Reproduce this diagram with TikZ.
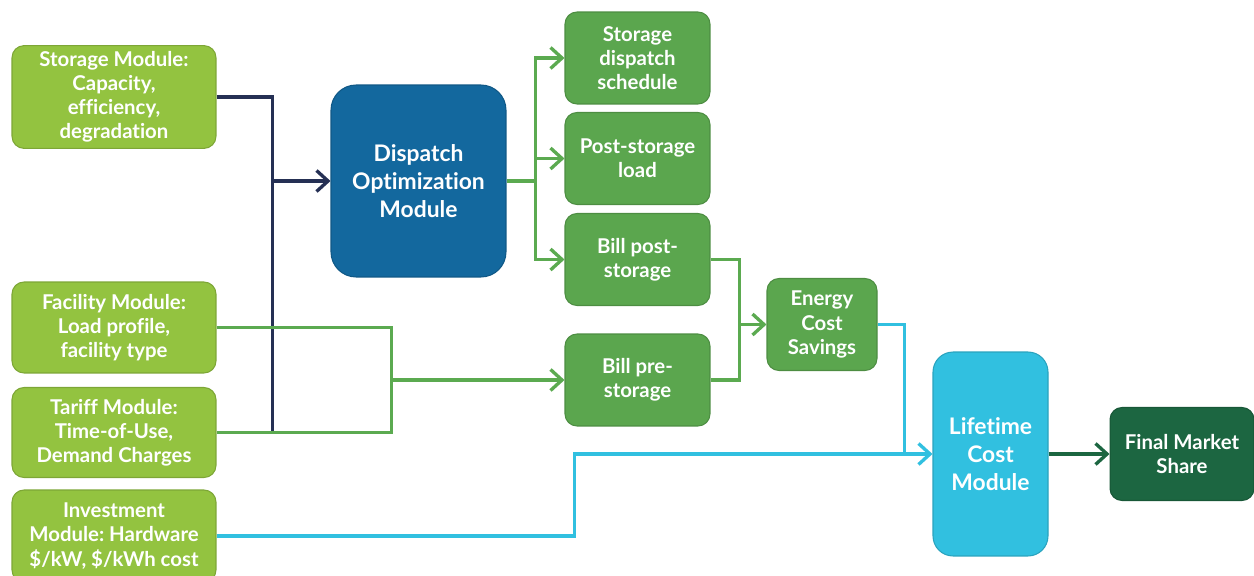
\documentclass[tikz,border=0pt]{standalone}
\usepackage{fontspec}
\setmainfont{Lato}[Ligatures=NoCommon]
\frenchspacing
\usetikzlibrary{arrows.meta}
\definecolor{inputgreen}{RGB}{147,195,64}
\definecolor{outgreen}{RGB}{91,166,78}
\definecolor{dispblue}{RGB}{19,104,158}
\definecolor{lifecyan}{RGB}{49,192,224}
\definecolor{finalgreen}{RGB}{28,102,65}
\definecolor{navyline}{RGB}{37,48,84}
\definecolor{greenline}{RGB}{91,170,80}
\tikzset{
	box/.style={rounded corners=0.24cm,align=center,text=white,line width=0.6pt,
		font=\bfseries\fontsize{11.6}{13.7}\selectfont},
	inbox/.style={box,fill=inputgreen,draw=inputgreen!85!black,minimum width=4.08cm},
	outbox/.style={box,fill=outgreen,draw=outgreen!85!black,minimum width=2.9cm,minimum height=1.84cm},
	conn/.style={line width=1.9pt},
	arr/.style={conn,-{Straight Barb[length=2.3mm,width=4.2mm]}}
}
\begin{document}
\begin{tikzpicture}[x=0.02cm,y=-0.02cm]
	\useasboundingbox (0,0) rectangle (1254,575);
	\node [inbox,minimum height=2.02cm] (stor) at (114,97) {Storage Module:\\Capacity,\\efficiency,\\degradation};
	\node [inbox,minimum height=1.82cm] (fac) at (114,327.5) {Facility Module:\\Load profile,\\facility type};
	\node [inbox,minimum height=1.8cm] (tar) at (114,432.5) {Tariff Module:\\Time-of-Use,\\Demand Charges};
	\node [inbox,minimum height=1.84cm] (inv) at (114,536) {Investment\\Module: Hardware\\\$/kW, \$/kWh cost};
	\node [box,fill=dispblue,draw=dispblue!85!black,rounded corners=0.5cm,minimum width=3.5cm,minimum height=3.84cm,
		font=\bfseries\fontsize{13}{15.9}\selectfont] (disp) at (418.5,181) {Dispatch\\Optimization\\Module};
	\node [outbox] (sched) at (637.5,58) {Storage\\dispatch\\schedule};
	\node [outbox] (load) at (637.5,158.5) {Post-storage\\load};
	\node [outbox] (post) at (637.5,259.5) {Bill post-\\storage};
	\node [outbox] (pre) at (637.5,380) {Bill pre-\\storage};
	\node [outbox,minimum width=2.2cm] (sav) at (822,324.5) {Energy\\Cost\\Savings};
	\node [box,fill=lifecyan,draw=lifecyan!85!black,rounded corners=0.4cm,minimum width=2.3cm,minimum height=4.08cm,
		font=\bfseries\fontsize{13}{15.9}\selectfont] (life) at (990.5,454) {Lifetime\\Cost\\Module};
	\node [box,fill=finalgreen,draw=finalgreen!85!black,minimum width=2.88cm,minimum height=1.86cm] (fin) at (1182,454) {Final Market\\Share};
	\coordinate (ntrunk) at ([xshift=-1.16cm]disp.west);
	\coordinate (fsplit) at ([xshift=-3.46cm]pre.west);
	\coordinate (dsplit) at ([xshift=0.58cm]disp.east);
	\coordinate (ssplit) at ([xshift=-0.54cm]sav.west);
	\coordinate (isplit) at ([xshift=-7.16cm]life.west);
	\coordinate (ljoin) at ([xshift=-0.56cm]life.west);
	\draw [conn,navyline] (stor.east) -| (ntrunk) |- (tar.east);
	\draw [arr,navyline] (ntrunk) -- (disp.west);
	\draw [conn,greenline] (fac.east) -| (fsplit) |- (tar.east);
	\draw [arr,greenline] (fsplit) -- (pre.west);
	\draw [conn,greenline] (disp.east) -- (dsplit);
	\foreach \n in {sched,load,post}
		\draw [arr,greenline] (dsplit) |- (\n.west);
	\draw [conn,greenline] (post.east) -| (ssplit) |- (pre.east);
	\draw [arr,greenline] (ssplit) -- (sav.west);
	\draw [arr,lifecyan] (inv.east) -| (isplit) -- (life.west);
	\draw [conn,lifecyan] (sav.east) -| (ljoin);
	\draw [arr,finalgreen] (life.east) -- (fin.west);
\end{tikzpicture}
\end{document}
